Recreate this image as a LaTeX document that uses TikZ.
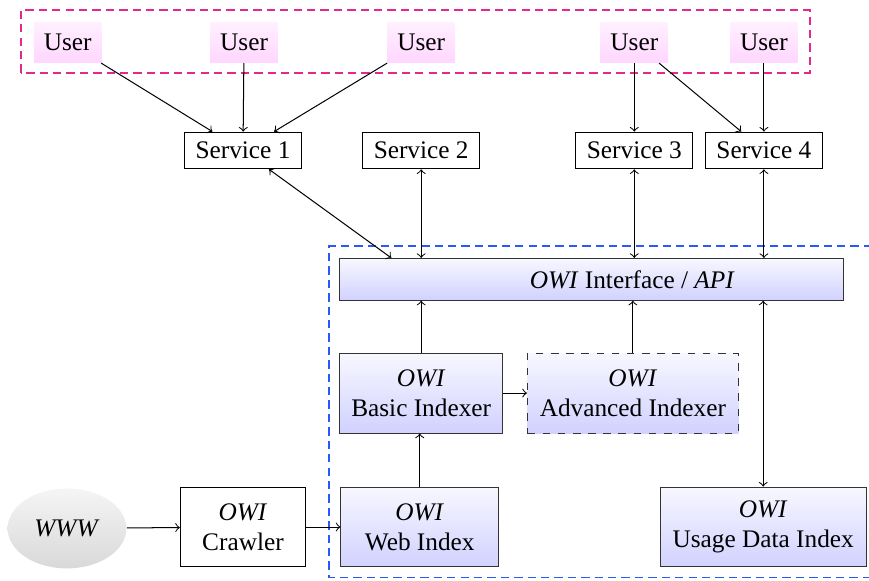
\documentclass[tikz,border=0pt]{standalone}
\usepackage{tikz}
\usetikzlibrary{shapes.geometric,calc}
\usepackage{fontspec}
\setmainfont{Liberation Serif}
\definecolor{userpink}{RGB}{228,40,140}
\definecolor{owiblue}{RGB}{40,90,250}
\tikzset{
  userbox/.style={top color=magenta!6,bottom color=magenta!16,minimum width=0.94cm,minimum height=0.56cm,inner sep=0pt},
  servbox/.style={draw,thin,minimum width=1.63cm,minimum height=0.51cm,inner sep=0pt},
  owibox/.style={draw=black!80,thin,top color=blue!3,bottom color=blue!18,minimum height=1.11cm,align=center,inner sep=0pt},
  plainbox/.style={draw,thin,minimum height=1.11cm,align=center,inner sep=0pt},
  groupline/.style={line width=0.7pt,dash pattern=on 3.3pt off 2pt},
}
\begin{document}
\begin{tikzpicture}[>=to]
  \useasboundingbox (0,0) rectangle (12.07,8.06);
  % groups
  \draw[userpink,groupline] (0.29,7.05) rectangle (11.25,7.92);
  \draw[owiblue,groupline] (12.3,4.64) -- (4.57,4.64) -- (4.57,0.04) -- (12.3,0.04);
  % users
  \node[userbox] (u1) at (0.94,7.47) {User};
  \node[userbox] (u2) at (3.39,7.47) {User};
  \node[userbox] (u3) at (5.85,7.47) {User};
  \node[userbox] (u4) at (8.81,7.47) {User};
  \node[userbox] (u5) at (10.61,7.47) {User};
  % services
  \node[servbox] (s1) at (3.375,5.97) {Service 1};
  \node[servbox] (s2) at (5.85,5.97) {Service 2};
  \node[servbox] (s3) at (8.81,5.97) {Service 3};
  \node[servbox] (s4) at (10.61,5.97) {Service 4};
  % OWI
  \node[owibox,minimum width=7.0cm,minimum height=0.58cm] (api) at (8.22,4.18)
    {\hspace*{3.2em}\textit{OWI} Interface / \textit{API}};
  \node[owibox,minimum width=2.26cm] (bi) at (5.85,2.60) {\textit{OWI}\\Basic Indexer};
  \node[owibox,dashed,minimum width=2.93cm] (ai) at (8.79,2.60) {\textit{OWI}\\Advanced Indexer};
  \node[owibox,minimum width=2.19cm] (wi) at (5.83,0.74) {\textit{OWI}\\Web Index};
  \node[owibox,minimum width=2.86cm] (ud) at (10.6,0.74) {\textit{OWI}\\Usage Data Index};
  \node[plainbox,minimum width=1.74cm] (cr) at (3.375,0.74) {\textit{OWI}\\Crawler};
  \node[ellipse,top color=gray!8,bottom color=gray!30,minimum width=1.65cm,minimum height=1.11cm,inner sep=0pt] (www) at (0.93,0.72) {\textit{WWW}};
  \coordinate (s1in) at ($(api.north west)!0.103!(api.north east)$);
  % connectors
  \draw[->] (u1) -- (s1);
  \draw[->] (u2) -- (s1);
  \draw[->] (u3) -- (s1);
  \draw[->] (u4) -- (s3);
  \draw[->] (u4) -- (s4);
  \draw[->] (u5) -- (s4);
  \draw[<->] (s1) -- (s1in);
  \draw[<->] (s2) -- (s2 |- api.north);
  \draw[<->] (s3) -- (s3 |- api.north);
  \draw[<->] (s4) -- (s4 |- api.north);
  \draw[->] (bi) -- (bi |- api.south);
  \draw[->] (ai) -- (ai |- api.south);
  \draw[->] (bi) -- (ai);
  \draw[->] (wi) -- (wi |- bi.south);
  \draw[<->] (api.south -| ud) -- (ud);
  \draw[->] (www) -- (cr);
  \draw[->] (cr) -- (wi);
\end{tikzpicture}
\end{document}
